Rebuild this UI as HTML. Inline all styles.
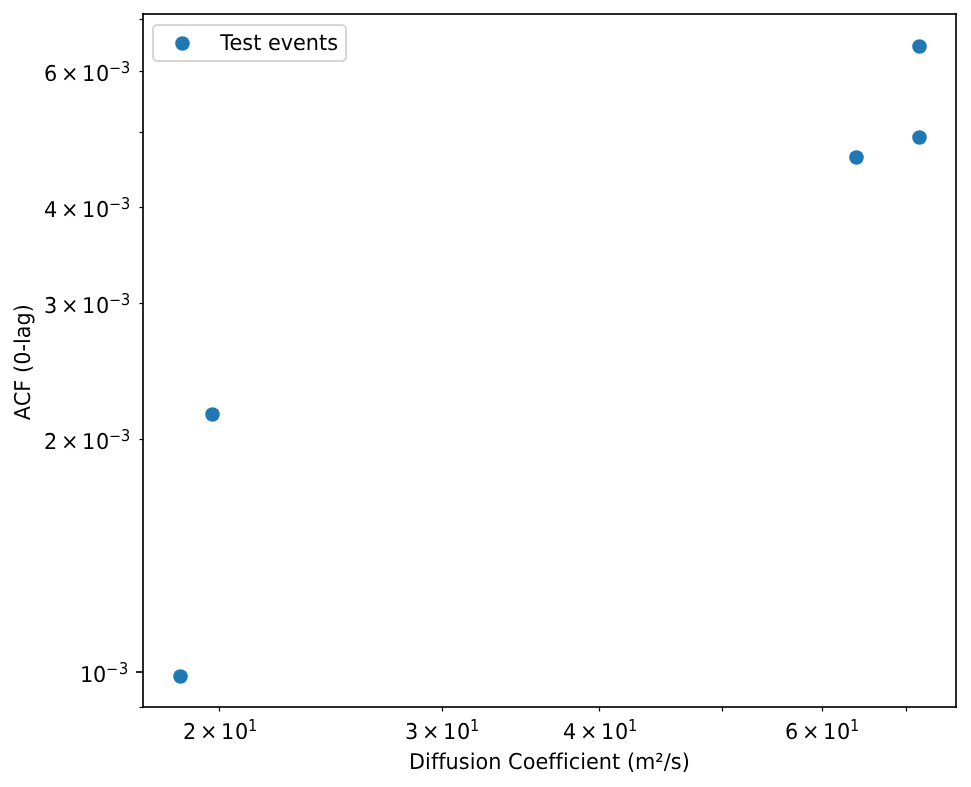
<!DOCTYPE html>
<html lang="en"><head><meta charset="utf-8"><title>ACF (0-lag) vs Diffusion Coefficient</title>
<style>html,body{margin:0;padding:0;background:#fff}body{width:971px;height:787px;overflow:hidden}svg{display:block}text{font-family:"DejaVu Sans","Liberation Sans",sans-serif;font-size:20.833px;fill:#000;text-rendering:geometricPrecision}text.s{font-size:14.583px}</style></head><body>
<svg width="971" height="787" viewBox="0 0 971 787">
<rect width="971" height="787" fill="#fff"/>
<!-- minor ticks -->
<g stroke="#000" stroke-width="1.25">
<line x1="219.5" y1="707.5" x2="219.5" y2="711.5"/>
<line x1="442.5" y1="707.5" x2="442.5" y2="711.5"/>
<line x1="599.5" y1="707.5" x2="599.5" y2="711.5"/>
<line x1="722.5" y1="707.5" x2="722.5" y2="711.5"/>
<line x1="822.5" y1="707.5" x2="822.5" y2="711.5"/>
<line x1="906.5" y1="707.5" x2="906.5" y2="711.5"/>
<line x1="139.5" y1="19.5" x2="143.5" y2="19.5"/>
<line x1="139.5" y1="71.5" x2="143.5" y2="71.5"/>
<line x1="139.5" y1="132.5" x2="143.5" y2="132.5"/>
<line x1="139.5" y1="207.5" x2="143.5" y2="207.5"/>
<line x1="139.5" y1="303.5" x2="143.5" y2="303.5"/>
<line x1="139.5" y1="439.5" x2="143.5" y2="439.5"/>
<line x1="139.5" y1="707.5" x2="143.5" y2="707.5"/>
</g>
<!-- major tick + spines -->
<g stroke="#000" stroke-opacity=".835" stroke-width="2">
<line x1="136" y1="672" x2="143" y2="672"/>
</g>
<g stroke="#000" stroke-opacity=".835" stroke-width="2" stroke-linecap="square">
<line x1="143" y1="707" x2="143" y2="14"/>
<line x1="956" y1="707" x2="956" y2="14"/>
<line x1="143" y1="707" x2="956" y2="707"/>
<line x1="143" y1="14" x2="956" y2="14"/>
</g>
<!-- x tick labels -->
<text transform="translate(183 739) scale(1 1.045)"><tspan x="0">2</tspan><tspan x="17">×</tspan><tspan x="38">1</tspan><tspan x="52">0</tspan></text><text transform="translate(248 731) scale(1 1.12)" class="s">1</text>
<text transform="translate(405 739) scale(1 1.045)"><tspan x="0">3</tspan><tspan x="17">×</tspan><tspan x="38">1</tspan><tspan x="52">0</tspan></text><text transform="translate(470 731) scale(1 1.12)" class="s">1</text>
<text transform="translate(563 739) scale(1 1.045)"><tspan x="0">4</tspan><tspan x="17">×</tspan><tspan x="38">1</tspan><tspan x="52">0</tspan></text><text transform="translate(628 731) scale(1 1.12)" class="s">1</text>
<text transform="translate(785 739) scale(1 1.045)"><tspan x="0">6</tspan><tspan x="17">×</tspan><tspan x="38">1</tspan><tspan x="52">0</tspan></text><text transform="translate(850 731) scale(1 1.12)" class="s">1</text>
<!-- y tick labels -->
<text transform="translate(44 81) scale(1 1.045)"><tspan x="0">6</tspan><tspan x="17">×</tspan><tspan x="38">1</tspan><tspan x="52">0</tspan></text><text transform="translate(109 73) scale(1 1)" class="s">−</text><text transform="translate(121 73) scale(1 1.12)" class="s">3</text>
<text transform="translate(44 217) scale(1 1.045)"><tspan x="0">4</tspan><tspan x="17">×</tspan><tspan x="38">1</tspan><tspan x="52">0</tspan></text><text transform="translate(109 209) scale(1 1)" class="s">−</text><text transform="translate(121 209) scale(1 1.12)" class="s">3</text>
<text transform="translate(44 313) scale(1 1.045)"><tspan x="0">3</tspan><tspan x="17">×</tspan><tspan x="38">1</tspan><tspan x="52">0</tspan></text><text transform="translate(109 305) scale(1 1)" class="s">−</text><text transform="translate(121 305) scale(1 1.12)" class="s">3</text>
<text transform="translate(44 449) scale(1 1.045)"><tspan x="0">2</tspan><tspan x="17">×</tspan><tspan x="38">1</tspan><tspan x="52">0</tspan></text><text transform="translate(109 441) scale(1 1)" class="s">−</text><text transform="translate(121 441) scale(1 1.12)" class="s">3</text>
<text transform="translate(80 682) scale(1 1.045)"><tspan x="0">1</tspan><tspan x="13">0</tspan></text><text transform="translate(106 674) scale(1 1)" class="s">−</text><text transform="translate(119 674) scale(1 1.12)" class="s">3</text>
<!-- axis labels -->
<text transform="translate(549.4 769) scale(1 1.045)" text-anchor="middle" letter-spacing="0.018">Diffusion Coefficient (m²/s)</text>
<text transform="translate(30 362.05) rotate(-90) scale(1 1.045)" text-anchor="middle" letter-spacing="0.03">ACF (0-lag)</text>
<!-- data -->
<g fill="#1f77b4">
<circle cx="180.5" cy="676.5" r="7.29"/>
<circle cx="212.5" cy="414.5" r="7.29"/>
<circle cx="856.5" cy="157.5" r="7.29"/>
<circle cx="919.5" cy="137.5" r="7.29"/>
<circle cx="919.5" cy="46.5" r="7.29"/>
</g>
<!-- legend -->
<rect x="153" y="25" width="193" height="36" rx="4.2" ry="4.2" fill="#fff" fill-opacity=".8" stroke="#ccc" stroke-opacity=".8" stroke-width="2.08"/>
<circle cx="182.5" cy="43.5" r="7.29" fill="#1f77b4"/>
<text transform="translate(220.28 50) scale(1 1.045)">Test events</text>
</svg></body></html>
